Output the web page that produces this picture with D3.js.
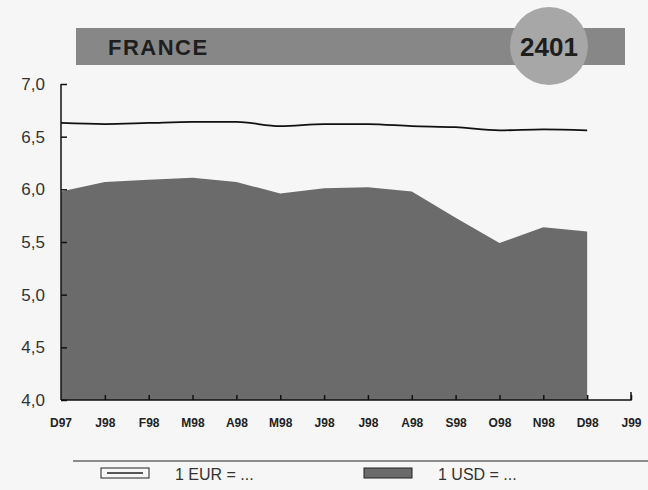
<!DOCTYPE html>
<meta charset="utf-8">
<style>
body {
  margin: 0;
  background: #f6f6f6;
  font-family: "Liberation Sans", Arial, sans-serif;
}
.axis path, .axis line {
  stroke: #111;
  stroke-width: 1.5px;
}
</style>
<body>
<script src="https://d3js.org/d3.v7.min.js"></script>
<script>

var width = 648,
    height = 490;

// month labels, D97 .. J99
var months = ["D97","J98","F98","M98","A98","M98","J98","J98","A98","S98","O98","N98","D98","J99"];
// 1 EUR = ... FRF
var eur = [6.63,6.62,6.63,6.64,6.64,6.60,6.62,6.62,6.60,6.59,6.56,6.57,6.56];
// 1 USD = ... FRF
var usd = [5.98,6.07,6.09,6.11,6.07,5.96,6.01,6.02,5.98,5.73,5.49,5.64,5.60];
var yTicks = [4.0,4.5,5.0,5.5,6.0,6.5,7.0];

var svg = d3.select("body").append("svg")
    .attr("width", width)
    .attr("height", height);

// title banner
svg.append("rect")
  .attr("x", 76).attr("y", 28)
  .attr("width", 549).attr("height", 37)
  .attr("fill", "#878787");
svg.append("text")
  .attr("x", 108).attr("y", 55)
  .attr("font-size", 22).attr("font-weight", "bold")
  .attr("letter-spacing", 1.5)
  .attr("fill", "#1e1e1e")
  .text("FRANCE");
svg.append("ellipse")
  .attr("cx", 549).attr("cy", 46)
  .attr("rx", 39).attr("ry", 39)
  .attr("fill", "#a7a7a7");
svg.append("text")
  .attr("x", 549).attr("y", 56)
  .attr("text-anchor", "middle")
  .attr("font-size", 26).attr("font-weight", "bold")
  .attr("fill", "#1e1e1e")
  .text("2401");

var x = d3.scaleLinear().domain([0, 13]).range([61, 631]);
var y = d3.scaleLinear().domain([4, 7]).range([400, 84]);

// USD area
var area = d3.area()
  .x(function(d, i){ return x(i); })
  .y0(y(4))
  .y1(function(d){ return y(d); });
svg.append("path")
  .datum(usd)
  .attr("d", area)
  .attr("fill", "#6b6b6b");

// EUR line
var line = d3.line()
  .x(function(d, i){ return x(i); })
  .y(function(d){ return y(d); })
  .curve(d3.curveMonotoneX);
svg.append("path")
  .datum(eur)
  .attr("d", line)
  .attr("fill", "none")
  .attr("stroke", "#111")
  .attr("stroke-width", 1.8);

// axes
var yAxis = d3.axisLeft(y)
  .tickValues(yTicks)
  .tickSize(-6)
  .tickPadding(16)
  .tickFormat(function(d){ return d3.format(".1f")(d).replace(".", ","); });
var gy = svg.append("g")
  .attr("class", "axis")
  .attr("transform", "translate(61,0)")
  .call(yAxis);
gy.select(".domain").attr("d", "M0,84V400");
gy.selectAll("text")
  .attr("font-size", 17)
  .attr("font-family", "Liberation Sans, Arial, sans-serif")
  .attr("fill", "#333");

var xAxis = d3.axisBottom(x)
  .tickValues(d3.range(1, 14))
  .tickSize(-5)
  .tickPadding(18)
  .tickFormat(function(i){ return months[i]; });
var gx = svg.append("g")
  .attr("class", "axis")
  .attr("transform", "translate(0,400)")
  .call(xAxis);
gx.select(".domain").attr("d", "M61,0H631V-8");
gx.append("text")
  .attr("x", x(0)).attr("y", 18).attr("dy", "0.71em")
  .attr("text-anchor", "middle")
  .text(months[0]);
gx.selectAll("text")
  .attr("font-size", 12)
  .attr("font-weight", "bold")
  .attr("font-family", "Liberation Sans, Arial, sans-serif")
  .attr("fill", "#222");

// legend
svg.append("line")
  .attr("x1", 73).attr("x2", 648)
  .attr("y1", 461).attr("y2", 461)
  .attr("stroke", "#222").attr("stroke-width", 1.2);
var legend = [
  {label: "1 EUR = ...", x: 101, fill: "#f6f6f6"},
  {label: "1 USD = ...", x: 364, fill: "#6b6b6b"}
];
var lg = svg.selectAll(".leg").data(legend).enter().append("g")
  .attr("transform", function(d){ return "translate(" + d.x + ",468)"; });
lg.append("rect")
  .attr("width", 48).attr("height", 10)
  .attr("fill", function(d){ return d.fill; })
  .attr("stroke", "#222").attr("stroke-width", 1);
lg.filter(function(d, i){ return i === 0; }).append("line")
  .attr("x1", 6).attr("x2", 42).attr("y1", 5).attr("y2", 5)
  .attr("stroke", "#222").attr("stroke-width", 1.5);
lg.append("text")
  .attr("x", 74).attr("y", 12)
  .attr("font-size", 16)
  .attr("fill", "#333")
  .text(function(d){ return d.label; });

</script>
